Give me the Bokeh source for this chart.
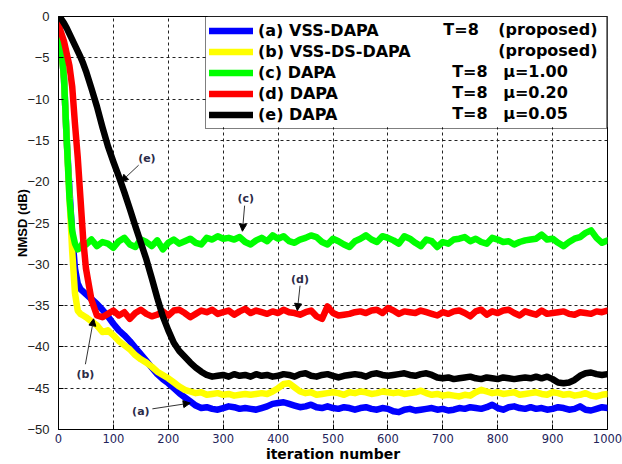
from bokeh.plotting import figure
from bokeh.models import (Range1d, SingleIntervalTicker, Legend, LegendItem,
                          Label, Arrow, NormalHead, BoxAnnotation)
from bokeh.core.properties import value
from bokeh.embed import file_html
from bokeh.resources import INLINE

# iteration index of every stored sample (dense at the start, then every 10)
iterations = [0, 5, 10, 15, 20, 25, 30, 35, 40, 45, 50] + list(range(60, 1001, 10))

# NMSD learning curves in dB
nmsd_vss_dapa = [
    -1.0, -3.5, -7.5, -15.0, -21.0, -26.5, -30.5, -32.3, -33.0, -33.3, -33.6,
    -34.2, -34.8, -35.5, -36.3, -37.2,
    -38.0, -38.6, -39.3, -40.1, -40.9, -41.7, -42.5, -43.3, -43.9, -44.4,
    -45.0, -45.6, -46.1, -46.6, -47.1, -47.4, -47.3, -47.5, -47.6, -47.4,
    -47.2, -47.3, -47.5, -47.4, -47.5, -47.6, -47.4, -47.2, -46.9, -46.8,
    -46.7, -46.9, -47.1, -47.3, -47.2, -47.0, -47.3, -47.4, -47.2, -47.4,
    -47.5, -47.3, -47.4, -47.6, -47.4, -47.3, -47.5, -47.6, -47.4, -47.5,
    -47.8, -47.9, -47.6, -47.5, -47.7, -47.6, -47.5, -47.4, -47.6, -47.5,
    -47.7, -47.6, -47.4, -47.5, -47.3, -47.4, -47.5, -47.3, -47.0, -47.4,
    -47.6, -47.3, -47.2, -47.4, -47.5, -47.3, -47.5, -47.4, -47.6, -47.5,
    -47.3, -47.4, -47.6, -47.5, -47.2, -47.6, -47.7, -47.5, -47.3, -47.4,
]
nmsd_vss_ds_dapa = [
    -1.0, -3.5, -7.5, -15.0, -22.0, -28.5, -33.5, -35.6, -36.0, -36.2, -36.4,
    -36.9, -37.4, -38.2, -38.0, -38.6,
    -39.3, -39.8, -40.3, -41.0, -41.5, -41.9, -42.4, -43.0, -43.4, -43.8,
    -44.3, -44.8, -45.2, -45.4, -45.6, -45.5, -45.8, -45.7, -45.6, -45.8,
    -45.7, -45.9, -45.8, -45.7, -45.8, -45.7, -45.6, -45.7, -45.4, -45.0,
    -44.5, -44.4, -44.9, -45.4, -45.6, -45.5, -45.8, -45.7, -45.6, -45.5,
    -45.6, -45.8, -45.5, -45.6, -45.4, -45.5, -45.7, -45.6, -45.4, -45.5,
    -45.6, -45.5, -45.7, -45.6, -45.5, -45.3, -45.6, -45.8, -45.7, -45.9,
    -45.8, -45.9, -46.0, -45.8, -45.9, -45.5, -45.2, -45.4, -45.6, -45.5,
    -45.7, -45.6, -45.5, -45.8, -45.7, -45.6, -45.5, -45.7, -45.8, -45.5,
    -45.6, -45.8, -45.7, -45.9, -45.8, -45.6, -45.9, -46.0, -45.8, -45.7,
]
nmsd_dapa_mu100 = [
    -1.0, -3.5, -7.5, -15.0, -22.0, -26.0, -27.5, -28.2, -28.0, -27.3, -27.6,
    -27.0, -27.8, -27.3, -27.5, -28.0,
    -27.2, -26.8, -27.6, -27.9, -27.0, -27.3, -27.8, -27.1, -28.2, -27.4,
    -27.0, -27.5, -27.2, -26.9, -27.4, -27.6, -26.8, -27.0, -26.6, -26.9,
    -26.8, -27.0, -26.7, -27.3, -27.6, -27.1, -26.8, -27.2, -26.5, -26.9,
    -26.6, -27.2, -27.4, -27.0, -26.8, -26.5, -26.7, -27.3, -27.6, -26.9,
    -27.2, -27.6, -27.9, -27.2, -26.9, -26.5, -27.0, -27.3, -26.6, -26.8,
    -27.1, -27.5, -26.6, -26.9, -27.4, -27.8, -27.0, -27.2, -27.9, -27.3,
    -27.5, -27.0, -26.9, -26.7, -27.2, -26.9, -27.3, -27.5, -26.8, -27.0,
    -27.3, -27.2, -27.6, -27.3, -27.1, -27.0, -26.9, -26.4, -27.0, -26.9,
    -27.4, -27.8, -27.3, -26.9, -26.7, -26.2, -25.9, -26.8, -27.4, -27.1,
]
nmsd_dapa_mu020 = [
    -1.0, -2.0, -3.0, -4.5, -6.0, -8.5, -13.0, -17.0, -22.0, -27.0, -30.5,
    -34.3, -36.2, -36.4, -36.0, -35.6,
    -36.2, -35.8, -36.6, -35.9, -35.5, -36.0, -36.3, -36.1, -35.7, -36.2,
    -35.6, -35.5, -35.9, -36.4, -36.0, -35.6, -35.8, -35.5, -36.0, -35.8,
    -35.6, -36.1, -35.7, -35.4, -35.9, -35.6, -35.8, -36.0, -35.7, -35.9,
    -35.5, -35.8, -35.9, -36.1, -35.8, -35.6, -36.3, -36.6, -35.1, -35.9,
    -36.2, -36.1, -36.0, -35.8, -35.7, -35.9, -35.6, -35.5, -35.9, -35.3,
    -35.6, -36.0, -35.7, -35.8, -35.9, -35.6, -35.8, -36.0, -36.2, -35.8,
    -36.0, -35.7, -35.6, -35.9, -36.3, -35.7, -35.5, -36.1, -35.7, -35.9,
    -35.6, -35.5, -35.9, -36.2, -35.7, -35.9, -36.1, -35.6, -36.0, -35.9,
    -35.8, -35.7, -36.0, -36.1, -35.8, -35.9, -36.0, -35.7, -35.8, -35.6,
]
nmsd_dapa_mu005 = [
    0.0, -0.3, -0.8, -1.4, -2.1, -2.8, -3.5, -4.2, -4.9, -5.7, -6.6,
    -8.7, -10.9, -13.4, -15.7, -17.6,
    -19.4, -21.3, -23.3, -25.4, -27.4, -29.4, -31.7, -34.1, -36.3, -38.0,
    -39.5, -40.5, -41.2, -41.9, -42.5, -43.0, -43.4, -43.6, -43.5, -43.4,
    -43.6, -43.3, -43.5, -43.4, -43.6, -43.3, -43.5, -43.4, -43.6, -43.5,
    -43.3, -43.4, -43.6, -43.3, -43.2, -43.5, -43.6, -43.4, -43.3, -43.5,
    -43.7, -43.5, -43.4, -43.3, -43.4, -43.6, -43.3, -43.2, -43.4, -43.5,
    -43.4, -43.3, -43.2, -43.4, -43.5, -43.3, -43.2, -43.4, -43.7, -43.8,
    -43.7, -43.9, -43.8, -43.7, -43.6, -43.8, -43.9, -43.7, -43.8, -43.9,
    -43.7, -43.8, -43.9, -43.8, -43.7, -43.8, -43.6, -43.8, -43.6, -43.9,
    -44.3, -44.4, -44.3, -44.0, -43.5, -43.2, -43.1, -43.3, -43.4, -43.3,
]

series_names = ["(a) VSS-DAPA", "(b) VSS-DS-DAPA", "(c) DAPA", "(d) DAPA", "(e) DAPA"]
series_values = [nmsd_vss_dapa, nmsd_vss_ds_dapa, nmsd_dapa_mu100,
                 nmsd_dapa_mu020, nmsd_dapa_mu005]
series_colors = ["#0000ff", "#ffff00", "#00ff00", "#ff0000", "#000000"]
step_sizes = ["T=8", "", "T=8", "T=8", "T=8"]
notes = ["(proposed)", "(proposed)", "\u03bc=1.00", "\u03bc=0.20", "\u03bc=0.05"]

WIDE = "DejaVu Sans"
NARROW = "Liberation Sans"

p = figure(width=622, height=464, output_backend="svg", toolbar_location=None,
           x_range=Range1d(0, 1000), y_range=Range1d(-50, 0),
           min_border_left=58, min_border_right=15, min_border_top=16,
           min_border_bottom=30)
p.background_fill_color = "white"
p.border_fill_color = "white"
p.outline_line_color = "black"
p.outline_line_width = 1

# axes
p.xaxis.ticker = SingleIntervalTicker(interval=100)
p.yaxis.ticker = SingleIntervalTicker(interval=5)
for ax in (p.xaxis[0], p.yaxis[0]):
    ax.major_tick_in = 5
    ax.major_tick_out = 0
    ax.minor_tick_line_color = None
    ax.axis_line_color = "black"
    ax.major_tick_line_color = "black"
    ax.axis_label_text_font_style = "bold"
    ax.axis_label_text_color = "black"
p.xaxis.major_label_text_font = WIDE
p.xaxis.major_label_text_font_size = "11.5px"
p.xaxis.major_label_text_color = "#23235a"
p.xaxis.major_label_standoff = 0
p.yaxis.major_label_text_font = NARROW
p.yaxis.major_label_text_font_size = "13px"
p.yaxis.major_label_text_color = "#222222"
p.yaxis.major_label_standoff = 5
p.xaxis.axis_label = "iteration number"
p.xaxis.axis_label_text_font = WIDE
p.xaxis.axis_label_text_font_size = "14px"
p.xaxis.axis_label_standoff = 0
p.yaxis.axis_label = "NMSD (dB)"
p.yaxis.axis_label_text_font = NARROW
p.yaxis.axis_label_text_font_size = "13px"
p.yaxis.axis_label_standoff = -6

# dotted grid
for g in (p.xgrid[0], p.ygrid[0]):
    g.grid_line_color = "#222222"
    g.grid_line_dash = "3 3"
    g.grid_line_width = 1

# white panel behind the legend, hiding the grid there
p.add_layout(BoxAnnotation(left=271.4, right=1000, top=0, bottom=-13.4,
                           fill_color="white", fill_alpha=1.0, line_alpha=0,
                           level="underlay"))

# curves
renderers = []
for name, vals, col in zip(series_names, series_values, series_colors):
    r = p.line(iterations, vals, line_color=col, line_width=6.5,
               line_join="round", line_cap="round")
    renderers.append(r)

# legend (label column) plus the extra parameter columns
legend = Legend(items=[LegendItem(label=n, renderers=[r])
                       for n, r in zip(series_names, renderers)],
                location="top_right", margin=0, padding=3, spacing=0,
                glyph_width=44, glyph_height=21, label_height=21,
                label_standoff=5, label_width=345,
                label_text_font=WIDE, label_text_font_size="16px",
                label_text_font_style="bold", label_text_baseline="middle",
                label_text_color="black",
                border_line_color="black", border_line_width=1,
                background_fill_alpha=0.0)
p.add_layout(legend, "center")

# parameter columns of the legend
row_db = [-1.63, -4.17, -6.70, -9.24, -11.78]
t_x = [701, 717, 717, 717, 717]
note_x = [801, 801, 810, 810, 810]
col_x = [x for x, t in zip(t_x, step_sizes) if t] + note_x
col_y = [y for y, t in zip(row_db, step_sizes) if t] + row_db
col_txt = [t for t in step_sizes if t] + notes
p.text(col_x, col_y, text=col_txt, text_font=value(WIDE), text_font_size="16px",
       text_font_style="bold", text_baseline="middle", text_color="black")

# curve call-outs: (label, label x, label y, arrow start, arrow tip)
callouts = [
    ("(a)", 150, -47.8, (171, -47.5), (240, -46.8)),
    ("(b)", 49, -43.3, (49, -42.1), (64, -36.6)),
    ("(c)", 341, -22.0, (339, -22.9), (335, -26.0)),
    ("(d)", 440, -31.8, (440, -32.6), (435, -35.6)),
    ("(e)", 161, -17.2, (146, -18.0), (114, -20.0)),
]
for txt, lx, ly, (x0, y0), (x1, y1) in callouts:
    p.add_layout(Label(x=lx, y=ly, text=txt, text_font=WIDE, text_font_size="11px",
                       text_font_style="bold", text_color="#2b2b48",
                       text_align="center", text_baseline="middle"))
    p.add_layout(Arrow(x_start=x0, y_start=y0, x_end=x1, y_end=y1,
                       line_color="#333333", line_width=1,
                       end=NormalHead(size=7, fill_color="black",
                                      line_color="black", line_width=1)))

open("out.html", "w").write(file_html(p, INLINE))
